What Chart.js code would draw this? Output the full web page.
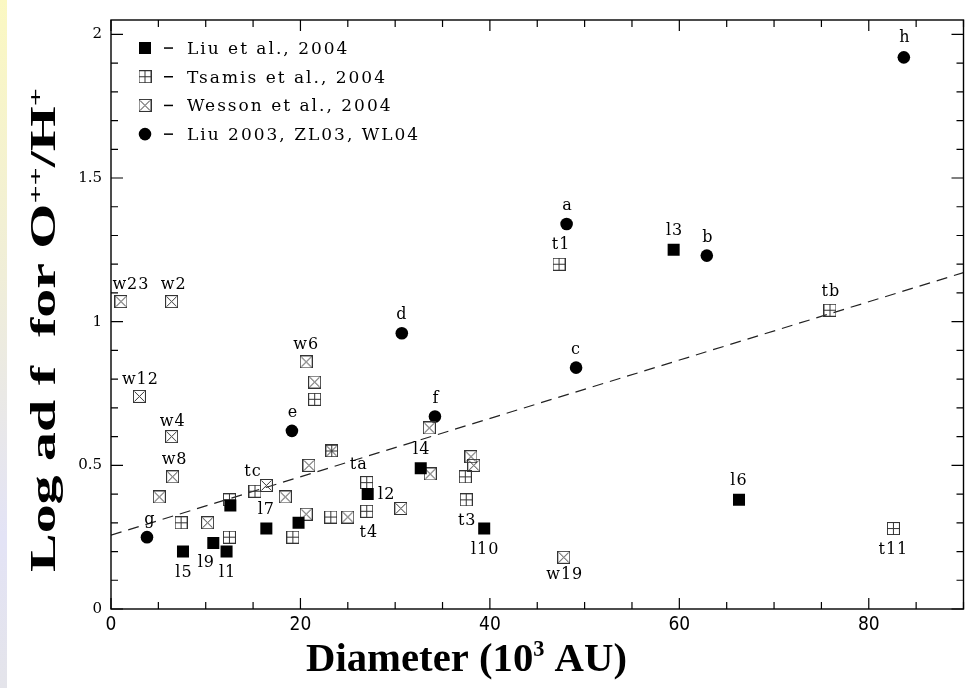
<!DOCTYPE html>
<html lang="en">
<head>
<meta charset="UTF-8">
<title>Log adf vs nebular diameter</title>
<script src="https://cdn.jsdelivr.net/npm/chart.js"></script>
<style>
  body { margin: 0; background: #fff; }
  .strip {
    position: absolute; left: 0; top: 0; width: 7px; height: 688px;
    background: linear-gradient(#fbf8c2, #f0eed8 40%, #e3e3f6 78%, #e4e4ea);
  }
  .wrap { position: absolute; left: 0; top: 0; width: 972px; height: 688px; }
</style>
</head>
<body>
<div class="strip"></div>
<div class="wrap"><canvas id="adf" width="972" height="688"></canvas></div>

<script>
// Liu et al., 2004 (filled squares)
const liuX = [7.6, 10.8, 12.2, 12.6, 16.4, 19.8, 27.1, 32.7, 39.4, 59.4, 66.3];
const liuY = [0.20, 0.23, 0.20, 0.36, 0.28, 0.30, 0.40, 0.49, 0.28, 1.25, 0.38];
const liuNames = ['l5', 'l9', 'l1', '', 'l7', '', 'l2', 'l4', 'l10', 'l3', 'l6'];

// Tsamis et al., 2004 (boxed plus)
const tsamisX = [7.4, 12.5, 12.5, 15.2, 19.2, 21.5, 23.3, 23.2, 27.0, 27.0, 37.4, 37.5, 47.3, 75.9, 82.6];
const tsamisY = [0.30, 0.25, 0.38, 0.41, 0.25, 0.73, 0.55, 0.32, 0.44, 0.34, 0.46, 0.38, 1.20, 1.04, 0.28];
const tsamisNames = ['', '', '', 'tc', '', '', '', '', 'ta', 't4', '', 't3', 't1', 'tb', 't11'];

// Wesson et al., 2004 (boxed cross)
const wessonX = [1.05, 6.4, 3.0, 6.4, 6.5, 5.1, 10.2, 16.4, 18.4, 20.6, 20.9, 20.6, 21.5, 23.3, 25.0, 30.6, 33.6, 33.7, 38.0, 38.3, 47.8];
const wessonY = [1.07, 1.07, 0.74, 0.60, 0.46, 0.39, 0.30, 0.43, 0.39, 0.33, 0.50, 0.86, 0.79, 0.55, 0.32, 0.35, 0.63, 0.47, 0.53, 0.50, 0.18];
const wessonNames = ['w23', 'w2', 'w12', 'w4', 'w8', '', '', '', '', '', '', 'w6', '', '', '', '', '', '', '', '', 'w19'];

// Liu 2003, ZL03, WL04 (filled circles)
const liu03X = [3.8, 19.1, 30.7, 34.2, 48.1, 49.1, 62.9, 83.7];
const liu03Y = [0.25, 0.62, 0.96, 0.67, 1.34, 0.84, 1.23, 1.92];
const liu03Names = ['g', 'e', 'd', 'f', 'a', 'c', 'b', 'h'];

// linear fit, end points
const fitX = [0, 90];
const fitY = [0.257, 1.171];

const xTicks = [0, 20, 40, 60, 80];
const yTicks = [0, 0.5, 1, 1.5, 2];
const xMinorStep = 5;
const yMinorStep = 0.1;

// where each point label sits, relative to its marker (px)
const labelOffset = {
  w23: [10, -17], w2: [2, -17], w12: [1, -17], w4: [1, -15], w8: [2, -17],
  g: [3, -17], l5: [1, 21], l9: [-7, 20], l1: [1, 21], tc: [-2, -19],
  l7: [0, -19], e: [1, -18], w6: [0, -17], d: [0, -18], f: [1, -18],
  ta: [-8, -18], l2: [19, 1], t4: [2, 22], l4: [1, -18], t3: [1, 21],
  l10: [1, 21], a: [1, -18], t1: [2, -19], l3: [1, -19], b: [1, -18],
  tb: [1, -18], c: [0, -18], w19: [1, 18], h: [1, -20], l6: [0, -19], t11: [0, 21]
};

function boxMarker(kind) {
  const c = document.createElement('canvas');
  c.width = 13; c.height = 13;
  const g = c.getContext('2d');
  g.strokeStyle = '#333';
  g.lineWidth = 1;
  g.strokeRect(0.5, 0.5, 12, 12);
  g.beginPath();
  if (kind === 'plus') {
    g.moveTo(6.5, 0.5); g.lineTo(6.5, 12.5);
    g.moveTo(0.5, 6.5); g.lineTo(12.5, 6.5);
  } else {
    g.moveTo(1.5, 1.5); g.lineTo(11.5, 11.5);
    g.moveTo(11.5, 1.5); g.lineTo(1.5, 11.5);
  }
  g.stroke();
  return c;
}
const plusImg = boxMarker('plus');
const crossImg = boxMarker('cross');

const toPts = (xs, ys) => xs.map((x, i) => ({ x: x, y: ys[i] }));

// bold serif string with superscript pieces, starting at (0, 0) on the baseline
function richWidth(ctx, parts, size) {
  let w = 0;
  parts.forEach(p => {
    ctx.font = 'bold ' + (p.sup ? size * 0.55 : size) + 'px "Liberation Serif"';
    w += ctx.measureText(p.t).width;
  });
  return w;
}
function drawRich(ctx, parts, size) {
  let x = 0;
  parts.forEach(p => {
    ctx.font = 'bold ' + (p.sup ? size * 0.55 : size) + 'px "Liberation Serif"';
    ctx.fillText(p.t, x, p.sup ? -size * 0.36 : 0);
    x += ctx.measureText(p.t).width;
  });
}

const frameAndLabels = {
  id: 'frameAndLabels',
  afterDatasetsDraw(chart) {
    const ctx = chart.ctx;
    const area = chart.chartArea;
    const xs = chart.scales.x, ys = chart.scales.y;

    ctx.save();
    // frame
    ctx.strokeStyle = '#000';
    ctx.lineWidth = 1.4;
    ctx.strokeRect(area.left, area.top, area.right - area.left, area.bottom - area.top);

    // inward ticks on all four sides
    ctx.lineWidth = 1.2;
    ctx.beginPath();
    for (let v = xs.min; v <= xs.max + 1e-9; v += xMinorStep) {
      const px = xs.getPixelForValue(v);
      const len = xTicks.includes(v) ? 11 : 7;
      ctx.moveTo(px, area.bottom); ctx.lineTo(px, area.bottom - len);
      ctx.moveTo(px, area.top); ctx.lineTo(px, area.top + len);
    }
    for (let i = 0; i * yMinorStep <= ys.max + 1e-9; i++) {
      const v = Math.round(i * yMinorStep * 10) / 10;
      const py = ys.getPixelForValue(v);
      const len = yTicks.includes(v) ? 12 : 7;
      ctx.moveTo(area.left, py); ctx.lineTo(area.left + len, py);
      ctx.moveTo(area.right, py); ctx.lineTo(area.right - len, py);
    }
    ctx.stroke();

    // point names
    ctx.fillStyle = '#000';
    ctx.font = '16px "DejaVu Serif"';
    ctx.letterSpacing = '1px';
    ctx.textAlign = 'center';
    ctx.textBaseline = 'middle';
    chart.data.datasets.forEach((ds, di) => {
      if (!ds.names) return;
      const meta = chart.getDatasetMeta(di);
      ds.names.forEach((name, i) => {
        if (!name) return;
        const pt = meta.data[i];
        const off = labelOffset[name] || [0, -18];
        ctx.fillText(name, pt.x + off[0], pt.y + off[1]);
      });
    });

    // legend in the upper left corner
    ctx.textAlign = 'left';
    ctx.textBaseline = 'alphabetic';
    ctx.font = '17px "DejaVu Serif"';
    ctx.letterSpacing = '2px';
    const rows = chart.data.datasets.filter(ds => ds.names);
    rows.forEach((ds, i) => {
      const cy = 48 + i * 28.7;
      const cx = 145;
      if (ds.pointStyle instanceof HTMLCanvasElement) {
        ctx.drawImage(ds.pointStyle, cx - 6.5, cy - 6.5);
      } else if (ds.pointStyle === 'rect') {
        ctx.fillRect(cx - 6, cy - 6, 12, 12);
      } else {
        ctx.beginPath();
        ctx.arc(cx, cy, 6.3, 0, Math.PI * 2);
        ctx.fill();
      }
      ctx.fillRect(164, cy - 0.7, 9, 1.5);
      ctx.fillText(ds.label, 187, cy + 6);
    });
    ctx.letterSpacing = '0px';

    // axis titles
    const base = 40;
    const xParts = [{ t: 'Diameter (10' }, { t: '3', sup: true }, { t: ' AU)' }];
    const xw = richWidth(ctx, xParts, base);
    ctx.save();
    ctx.translate(306, 671);
    ctx.scale(321 / xw, 27 / (0.66 * base));
    drawRich(ctx, xParts, base);
    ctx.restore();

    const yParts = [{ t: 'Log ad f  for O' }, { t: '++', sup: true }, { t: '/H' }, { t: '+', sup: true }];
    const yw = richWidth(ctx, yParts, base);
    ctx.save();
    ctx.translate(55, 572);
    ctx.rotate(-Math.PI / 2);
    ctx.scale(484 / yw, 23 / (0.66 * base));
    drawRich(ctx, yParts, base);
    ctx.restore();

    ctx.restore();
  }
};

new Chart(document.getElementById('adf'), {
  type: 'scatter',
  data: {
    datasets: [
      {
        label: 'Liu et al., 2004', data: toPts(liuX, liuY), names: liuNames,
        pointStyle: 'rect', pointRadius: 8.5, backgroundColor: '#000', borderColor: '#000', borderWidth: 0
      },
      {
        label: 'Tsamis et al., 2004', data: toPts(tsamisX, tsamisY), names: tsamisNames,
        pointStyle: plusImg
      },
      {
        label: 'Wesson et al., 2004', data: toPts(wessonX, wessonY), names: wessonNames,
        pointStyle: crossImg
      },
      {
        label: 'Liu 2003, ZL03, WL04', data: toPts(liu03X, liu03Y), names: liu03Names,
        pointStyle: 'circle', pointRadius: 6.3, backgroundColor: '#000', borderColor: '#000', borderWidth: 0
      },
      {
        label: 'fit', data: toPts(fitX, fitY), showLine: true,
        borderColor: '#222', borderWidth: 1.2, borderDash: [11, 7], pointRadius: 0
      }
    ]
  },
  options: {
    responsive: false,
    animation: false,
    events: [],
    layout: { padding: { left: 0, right: 8, top: 20, bottom: 0 } },
    plugins: { legend: { display: false }, tooltip: { enabled: false } },
    scales: {
      x: {
        type: 'linear', min: 0, max: 90,
        afterBuildTicks: s => { s.ticks = xTicks.map(v => ({ value: v })); },
        afterFit: s => { s.height = 79; },
        grid: { display: false }, border: { display: false },
        ticks: { color: '#000', padding: -3, maxRotation: 0, font: { family: '"DejaVu Sans Condensed", "DejaVu Sans"', size: 19 } }
      },
      y: {
        type: 'linear', min: 0, max: 2.05,
        afterBuildTicks: s => { s.ticks = yTicks.map(v => ({ value: v })); },
        afterFit: s => { s.width = 111; },
        grid: { display: false }, border: { display: false },
        ticks: { color: '#000', padding: 1, callback: v => String(v), font: { family: '"DejaVu Serif"', size: 15 } }
      }
    }
  },
  plugins: [frameAndLabels]
});
</script>
</body>
</html>
